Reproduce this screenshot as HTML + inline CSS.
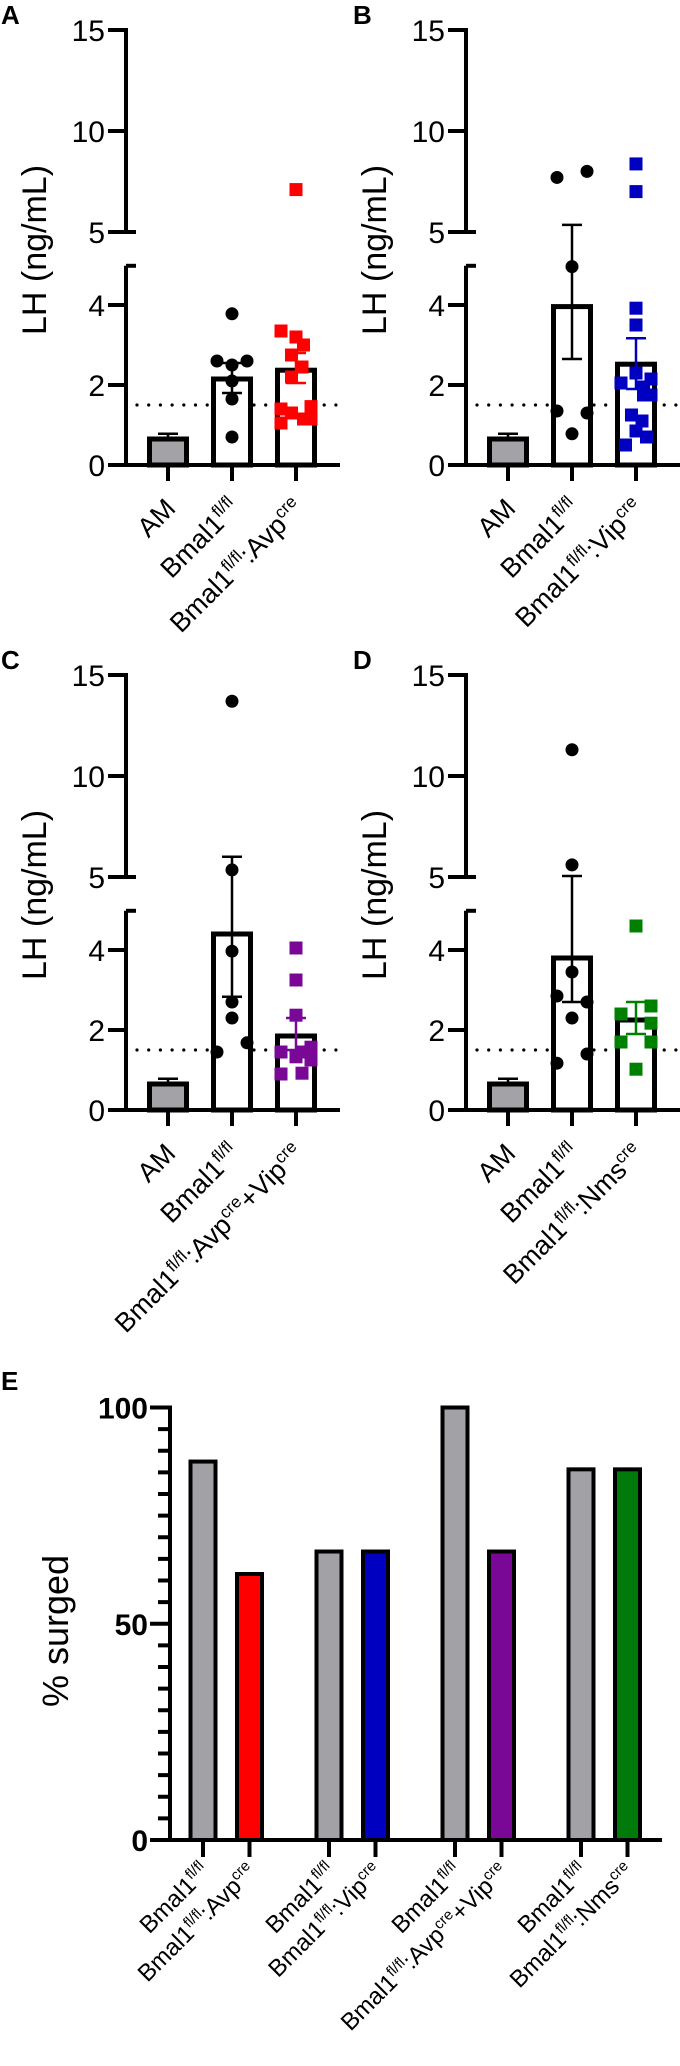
<!DOCTYPE html>
<html><head><meta charset="utf-8">
<style>
html,body{margin:0;padding:0;background:#fff;}
svg{display:block;font-family:"Liberation Sans",Arial,sans-serif;}
</style></head>
<body>
<svg id="fig" width="680" height="2066" viewBox="0 0 680 2066" xmlns="http://www.w3.org/2000/svg"></svg>
<script>
// ---- Panel data (LH ng/mL) ----
const groupsA = ["AM","Bmal1fl/fl","Bmal1fl/fl:Avpcre"];
const meansA = [0.65, 2.15, 2.37];
const errLoA = [0.65, 1.8, 2.05];
const errHiA = [0.78, 2.55, 2.8];
const ptsA1 = [3.78, 2.6, 2.6, 2.5, 2.1, 1.65, 0.7];
const colA1 = [0, -1, 1, 0, 0, 0, 0];
const ptsA2 = [7.1, 3.35, 3.2, 3.0, 2.75, 2.45, 2.2, 1.46, 1.4, 1.3, 1.15, 1.15, 1.05];
const colA2 = [0, -1, 0, 0.5, -0.3, 0.4, -0.3, 1, -1, -0.3, 0.5, 1, -1];

const meansB = [0.65, 3.96, 2.52];
const errLoB = [0.65, 2.65, 1.9];
const errHiB = [0.78, 5.35, 3.17];
const ptsB1 = [7.7, 8.0, 4.96, 1.35, 1.3, 0.78];
const colB1 = [-1, 1, 0, -1, 1, 0];
const ptsB2 = [8.37, 7.0, 3.92, 3.5, 2.3, 2.05, 2.15, 1.95, 1.75, 1.75, 1.25, 1.1, 0.85, 0.7, 0.5];
const colB2 = [0, 0, 0, 0, 0, -1, 1, 0.5, 1, 0.5, -0.3, 0.4, 0, 0.7, -0.7];

const meansC = [0.65, 4.4, 1.85];
const errLoC = [0.65, 2.83, 1.5];
const errHiC = [0.78, 6.0, 2.3];
const ptsC1 = [13.7, 5.35, 3.97, 2.7, 2.3, 1.45, 1.68];
const colC1 = [0, 0, 0, 0, 0, -1, 1];
const ptsC2 = [4.05, 3.25, 2.37, 1.45, 1.57, 1.45, 1.25, 1.33, 0.9, 0.92];
const colC2 = [0, 0, 0, -1, 1, 0.5, 1, 0, -1, 0.4];

const meansD = [0.65, 3.8, 2.25];
const errLoD = [0.65, 2.7, 1.9];
const errHiD = [0.78, 5.05, 2.7];
const ptsD1 = [11.3, 5.6, 3.45, 2.85, 2.7, 2.3, 1.4, 1.17];
const colD1 = [0, 0, 0, -1, 1, 0, 1, -1];
const ptsD2 = [4.6, 2.6, 2.4, 2.17, 1.7, 1.7, 1.02];
const colD2 = [0, 1, -1, 1, -1, 1, 0];

const lhTicksLow = [0, 2, 4];
const lhTicksHigh = [5, 10, 15];
const threshold = [1.5];

// ---- Panel E data (% surged) ----
const surgedValues = [87.5, 61.5, 66.7, 66.7, 100, 66.7, 85.7, 85.7];
const surgedColors = ["#a2a1a6","#ff0000","#a2a1a6","#0000c0","#a2a1a6","#7a0896","#a2a1a6","#007a0a"];
const surgedTicks = [0, 50, 100];

const NS = "http://www.w3.org/2000/svg";
const svg = document.getElementById("fig");
function mk(tag, attrs, parent){
  const e = document.createElementNS(NS, tag);
  for (const k in attrs) e.setAttribute(k, attrs[k]);
  (parent || svg).appendChild(e);
  return e;
}
function label(g, x, y, parts, fs, sfs, rot){
  const t = mk("text", {x:x, y:y, "font-size":fs, "text-anchor":"end", fill:"#000",
    transform: rot ? "rotate(-45 "+x+" "+y+")" : ""}, g);
  let sup = false;
  parts.forEach(p => {
    const s = document.createElementNS(NS, "tspan");
    if (p.sup && !sup){ s.setAttribute("dy", -fs*0.38); s.setAttribute("font-size", sfs); sup = true; }
    else if (!p.sup && sup){ s.setAttribute("dy", fs*0.38); sup = false; }
    else if (p.sup) s.setAttribute("font-size", sfs);
    s.textContent = p.t;
    t.appendChild(s);
  });
  return t;
}
const bm = [{t:"Bmal1"},{t:"fl/fl",sup:true}];
const labelsAD = [
  [[{t:"AM"}], bm, bm.concat([{t:":Avp"},{t:"cre",sup:true}])],
  [[{t:"AM"}], bm, bm.concat([{t:":Vip"},{t:"cre",sup:true}])],
  [[{t:"AM"}], bm, bm.concat([{t:":Avp"},{t:"cre",sup:true},{t:"+Vip"},{t:"cre",sup:true}])],
  [[{t:"AM"}], bm, bm.concat([{t:":Nms"},{t:"cre",sup:true}])]
];

function panel(idx, letter, ox, oy, means, lo, hi, p1, c1, p2, c2, color){
  const g = mk("g", {});
  
  
  const yLow = v => oy + 465 - 40*v;
  const yHigh = v => oy + 232 - 20.2*(v-5);
  const y = v => v <= 5 ? yLow(v) : yHigh(v);
  const ax = ox + 126;
  const xc = [ox+168, ox+232, ox+296];

  const pl = mk("text", {x:ox+ (letter==="B"||letter==="D"?13:1), y:oy+24, "font-size":26, "font-weight":"bold"}, g);
  pl.textContent = letter;
  
  

  const yt = mk("text", {x:0, y:0, "font-size":34, "text-anchor":"middle",
    transform:"translate("+(ox+46)+","+(oy+250)+") rotate(-90)", "xml:space":"preserve"}, g);
  yt.textContent = "LH  (ng/mL)";
  
  

  const axis = mk("g", {stroke:"#000", "stroke-width":4, fill:"none"}, g);
  
  
  mk("line", {x1:ax, y1:yHigh(15)-2, x2:ax, y2:yHigh(5)+2}, axis);
  mk("line", {x1:ax, y1:yLow(4.98), x2:ax, y2:yLow(0)}, axis);
  mk("line", {x1:ax, y1:yLow(4.98), x2:ax+10, y2:yLow(4.98)}, axis);
  mk("line", {x1:ax-10, y1:yHigh(5), x2:ax+10, y2:yHigh(5)}, axis);
  lhTicksHigh.forEach(v => {
    mk("line", {x1:ax-18, y1:yHigh(v), x2:ax, y2:yHigh(v)}, axis);
    const t = mk("text", {x:ax-21, y:yHigh(v)+11, "font-size":30, "text-anchor":"end", fill:"#000", stroke:"none"}, g);
    t.textContent = v;
    
    
  });
  lhTicksLow.forEach(v => {
    mk("line", {x1:ax-18, y1:yLow(v), x2:ax, y2:yLow(v)}, axis);
    const t = mk("text", {x:ax-21, y:yLow(v)+11, "font-size":30, "text-anchor":"end", fill:"#000", stroke:"none"}, g);
    t.textContent = v;
    
    
  });
  const xa = mk("line", {x1:ox+108, y1:yLow(0), x2:ox+340, y2:yLow(0), stroke:"#000", "stroke-width":4}, g);
  
  

  const th = mk("line", {x1:ox+137, y1:yLow(threshold[0]), x2:ox+340, y2:yLow(threshold[0]),
    stroke:"#000", "stroke-width":3.2, "stroke-dasharray":"0 11.7", "stroke-linecap":"round"}, g);
  
  

  means.forEach((m, i) => {
    const b = mk("rect", {x:xc[i]-18.5, y:y(m), width:37, height:yLow(0)-y(m),
      fill: i===0 ? "#a3a2a7" : "#fff", stroke:"#000", "stroke-width":5}, g);
    
    
    const ec = i===2 ? color : "#000";
    const eg = mk("g", {stroke:ec, "stroke-width":2.5}, g);
    
    
    mk("line", {x1:xc[i], y1:y(hi[i]), x2:xc[i], y2:y(lo[i])}, eg);
    mk("line", {x1:xc[i]-10, y1:y(hi[i]), x2:xc[i]+10, y2:y(hi[i])}, eg);
    if (i>0) mk("line", {x1:xc[i]-10, y1:y(lo[i]), x2:xc[i]+10, y2:y(lo[i])}, eg);
  });
  p1.forEach((v, k) => {
    const c = mk("circle", {cx:xc[1]+c1[k]*15, cy:y(v), r:6.5, fill:"#000"}, g);
    
    
  });
  p2.forEach((v, k) => {
    const s = mk("rect", {x:xc[2]+c2[k]*15-6.5, y:y(v)-6.5, width:13, height:13, fill:color}, g);
    
    
  });
  xc.forEach((x, i) => {
    mk("line", {x1:x, y1:yLow(0), x2:x, y2:yLow(0)+16, stroke:"#000", "stroke-width":4}, g);
    const t = label(g, x+9, oy+510, labelsAD[idx][i], 27, 17, true);
    
    
  });
}

panel(0, "A", 0, 0, meansA, errLoA, errHiA, ptsA1, colA1, ptsA2, colA2, "#ff0000");
panel(1, "B", 340, 0, meansB, errLoB, errHiB, ptsB1, colB1, ptsB2, colB2, "#0000c0");
panel(2, "C", 0, 645, meansC, errLoC, errHiC, ptsC1, colC1, ptsC2, colC2, "#7a0896");
panel(3, "D", 340, 645, meansD, errLoD, errHiD, ptsD1, colD1, ptsD2, colD2, "#008000");

// ---- Panel E ----
(function(){
  const g = mk("g", {});
  
  
  const y0 = 1840, yTop = 1407.5;
  const yE = v => y0 - (y0 - yTop) * v / 100;
  const xE = i => 203 + Math.floor(i/2)*126 + (i%2)*46.5;
  const ax = 170;

  const pl = mk("text", {x:1, y:1390, "font-size":26, "font-weight":"bold"}, g);
  pl.textContent = "E";
  
  

  const yt = mk("text", {x:0, y:0, "font-size":36, "text-anchor":"middle",
    transform:"translate(68,1631) rotate(-90)"}, g);
  yt.textContent = "% surged";
  
  

  const axis = mk("g", {stroke:"#000", "stroke-width":4}, g);
  
  
  mk("line", {x1:ax, y1:yTop-2, x2:ax, y2:y0}, axis);
  for (let v = 0; v <= 100; v += 5){
    const major = surgedTicks.indexOf(v) >= 0;
    mk("line", {x1: major ? ax-20 : ax-12, y1:yE(v), x2:ax, y2:yE(v)}, axis);
  }
  surgedTicks.forEach(v => {
    const t = mk("text", {x:148, y:yE(v)+11, "font-size":30, "font-weight":"bold", "text-anchor":"end"}, g);
    t.textContent = v;
    
    
  });
  const xa = mk("line", {x1:152, y1:y0, x2:662, y2:y0, stroke:"#000", "stroke-width":4}, g);
  
  

  const eLabels = [
    bm, bm.concat([{t:":Avp"},{t:"cre",sup:true}]),
    bm, bm.concat([{t:":Vip"},{t:"cre",sup:true}]),
    bm, bm.concat([{t:":Avp"},{t:"cre",sup:true},{t:"+Vip"},{t:"cre",sup:true}]),
    bm, bm.concat([{t:":Nms"},{t:"cre",sup:true}])
  ];
  surgedValues.forEach((v, i) => {
    const x = xE(i);
    const b = mk("rect", {x:x-12.5, y:yE(v), width:25, height:y0-yE(v), fill:surgedColors[i], stroke:"#000", "stroke-width":4}, g);
    
    
    mk("line", {x1:x, y1:y0, x2:x, y2:y0+17, stroke:"#000", "stroke-width":4}, g);
    const t = label(g, x+8, 1873, eLabels[i], 24, 15, true);
    
    
  });
})();
</script>
</body></html>
